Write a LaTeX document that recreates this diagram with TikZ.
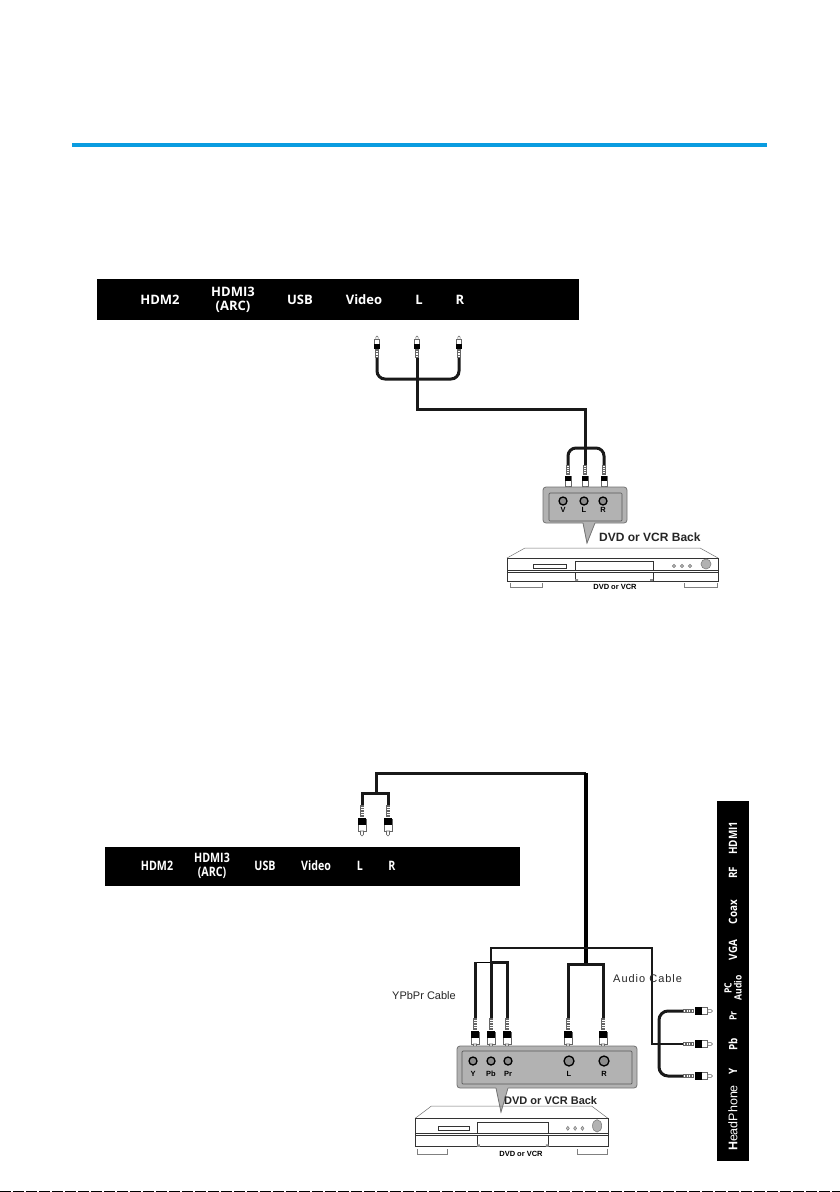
\documentclass[tikz,border=0pt]{standalone}
\usepackage{fontspec}
\setmainfont{Open Sans}
\newfontfamily\lab{Liberation Sans}
\tikzset{
  x=1pt,y=-1pt,
  bar/.style={fill=black,draw=none},
  port/.style={text=white,font=\fontsize{13}{13.5}\selectfont\bfseries,align=center,inner sep=0,transform shape},
  portb/.style={port,xscale=.82},
  vport/.style={port,rotate=90,xscale=.86,font=\fontsize{11.5}{11}\selectfont\bfseries},
  cable/.style={line width=3pt,draw=black!90,line join=miter},
  thin cable/.style={line width=2pt,draw=black!90},
  rounded cable/.style={cable,rounded corners=8pt},
  caption/.style={font=\lab\fontsize{11}{11}\selectfont,text=black!85,inner sep=0},
  backlabel/.style={font=\lab\bfseries\fontsize{11}{11}\selectfont,text=black!85,inner sep=0},
  jacklabel/.style={font=\lab\bfseries\fontsize{7.5}{7.5}\selectfont,inner sep=0},
  panel/.style={fill=black!30,draw=black!55,line width=.8pt,rounded corners=3pt},
  jack/.style={circle,fill=black!45,draw=black,line width=1.3pt,minimum size=8pt,inner sep=0},
  plug/.pic={
    \fill[black!60] (-2.2,0) rectangle (2.2,12);
    \foreach \r in {1.5,4,6.5,9}{\fill[white] (-1.5,\r) rectangle (1.5,\r+1);}
    \filldraw[fill=white,draw=black!60,line width=.6pt] (-3.8,14) rectangle (3.8,26);
    \fill[black] (-3.8,13) rectangle (3.8,20);
    \filldraw[fill=white,draw=black!60,line width=.6pt] (-1.5,26) -- (-1.5,29.5) -- (0,31) -- (1.5,29.5) -- (1.5,26) -- cycle;
  }
}
\newcommand{\player}[4]{%
\begin{scope}[shift={(#1,#2)},xscale=#3,yscale=#4,line width=.9pt,draw=black!80]
  \draw[black!55,line width=.5pt] (0,10) -- (18,0) -- (193,0) -- (211,10);
  \draw (0,10) rectangle (211,33);
  \draw (0,22) -- (211,22) (0,24) -- (211,24);
  \draw[line width=.7pt] (26,16) rectangle (59,20);
  \draw (68,13) rectangle (146,22);
  \draw (68,24) -- (68,33) (146,24) -- (146,33);
  \fill[black!45] (68,31) rectangle (71,33) (143,31) rectangle (146,33);
  \foreach \b in {167,175,183}{\filldraw[fill=black!20,draw=black!50,line width=.6pt] (\b,18) circle[radius=1.6];}
  \filldraw[fill=black!30,draw=black!50,line width=.6pt] (199,16) circle[radius=5];
  \draw[black!50,line width=.6pt] (3,35) -- (3,39) -- (35,39) -- (35,35);
  \draw[black!50,line width=.6pt] (177,35) -- (177,39) -- (210,39) -- (210,35);
\end{scope}}
\begin{document}
\begin{tikzpicture}
\useasboundingbox (0,0) rectangle (840,1192);
\fill[white] (0,0) rectangle (840,1192);
% header rule and bottom edge
\coordinate (ruleL) at (72,145);
\coordinate (ruleR) at (767,145);
\draw[line width=4pt,draw={rgb,255:red,10;green,156;blue,224}] (ruleL) -- (ruleR);
\coordinate (edgeL) at (0,1191.5);
\coordinate (edgeR) at (840,1191.5);
\draw[line width=1pt,dash pattern=on 11pt off 2pt] (edgeL) -- (edgeR);

% ---------- upper bar
\fill[bar] (97,279) rectangle (579,320);
\node[port] (a1) at (160,300) {HDM2};
\node[port] (a2) at (233,300) {HDMI3\\(ARC)};
\node[port] (a3) at (300,300) {USB};
\node[port] (a4) at (364,300) {Video};
\node[port] (a5) at (419,300) {L};
\node[port] (a6) at (460,300) {R};

% upper cable
\coordinate (uV) at (377,358);
\coordinate (uL) at (417,358);
\coordinate (uR) at (459,358);
\coordinate (uJ) at (417,379);
\coordinate (uA) at (417,409);
\coordinate (uB) at (585,409);
\coordinate (lJ) at (585,448);
\coordinate (lV) at (568,465);
\coordinate (lL) at (585,465);
\coordinate (lR) at (604,465);
\draw[rounded cable] (uV) |- (uJ);
\draw[rounded cable] (uR) |- (uJ);
\draw[cable] (uL) -- (uA) -- (uB) -- (lL);
\draw[rounded cable] (lV) |- (lJ);
\draw[rounded cable] (lR) |- (lJ);
\foreach \c in {uV,uL,uR}{\pic[rotate=180,scale=.71] at (\c) {plug};}
\foreach \c in {lV,lL,lR}{\pic[scale=.82] at (\c) {plug};}

% upper panel
\draw[panel] (543,487) rectangle (627,523);
\filldraw[fill=black!30,draw=black!30] (583,522) -- (587,543) -- (595,522) -- cycle;
\draw[black!55,line width=.8pt] (583,523) -- (587,543) -- (595,523);
\draw[black!65,line width=.7pt,rounded corners=1pt] (549,493) rectangle (622,521);
\node[jack] (j1) at (563,501) {};
\node[jack] (j2) at (584,501) {};
\node[jack] (j3) at (603,501) {};
\node[jacklabel] (l1) at (563,510) {V};
\node[jacklabel] (l2) at (584,510) {L};
\node[jacklabel] (l3) at (603,510) {R};
\node[backlabel,anchor=west,font=\lab\bfseries\fontsize{12}{12}\selectfont] (b1) at (599,537) {DVD or VCR Back};
\player{507}{548}{1}{1}
\node[font=\lab\bfseries\fontsize{7.5}{7.5}\selectfont,inner sep=0] (p1) at (615,587) {DVD or VCR};

% ---------- lower bar
\fill[bar] (105,847) rectangle (520,886);
\node[portb] (c1) at (157,866) {HDM2};
\node[portb] (c2) at (212,866) {HDMI3\\(ARC)};
\node[portb] (c3) at (265,866) {USB};
\node[portb] (c4) at (316,866) {Video};
\node[portb] (c5) at (360,866) {L};
\node[portb] (c6) at (392,866) {R};

% lower cables
\coordinate (tL) at (362,805);
\coordinate (tR) at (388,805);
\coordinate (tJ) at (376,793);
\coordinate (tA) at (376,773);
\coordinate (tB) at (586,773);
\coordinate (tC) at (586,964);
\coordinate (aL) at (568,1018);
\coordinate (aR) at (603,1018);
\coordinate (yY) at (475,1018);
\coordinate (yB) at (491,1018);
\coordinate (yP) at (507,1018);
\coordinate (yT) at (491,962);
\coordinate (wA) at (491,948);
\coordinate (wB) at (652,948);
\coordinate (wC) at (652,1044);
\coordinate (rPr) at (683,1011);
\coordinate (rPb) at (683,1044);
\coordinate (rY) at (683,1076);
\coordinate (rX) at (659,1011);
\draw[cable] (tL) |- (tJ) -| (tR);
\draw[cable] (tJ) -- (tA) -- (tB);
\draw[line width=4pt,draw=black] (tB) -- (tC);
\draw[cable] (aL) |- (tC) -| (aR);
\draw[line width=1pt,draw=black] (yY |- yT) -- (yT);
\draw[cable] (yY) -- (yY |- yT);
\draw[cable] (yB) -- (yT);
\draw[cable] (yP) |- (yT);
\draw[thin cable] (yT) -- (wA) -- (wB) -- (wC) -- (rPb);
\draw[rounded cable,rounded corners=9pt] (rPr) -- (rX) -- (rX |- rY) -- (rY);
\foreach \c in {tL,tR,aL,aR,yY,yB,yP}{\pic at (\c) {plug};}
\foreach \c in {rPr,rPb,rY}{\pic[rotate=90,scale=.95] at (\c) {plug};}

% lower panel
\draw[panel] (457,1046) rectangle (637,1088);
\filldraw[fill=black!30,draw=black!30] (496,1087) -- (501,1112) -- (508,1087) -- cycle;
\draw[black!55,line width=.8pt] (496,1088) -- (501,1112) -- (508,1088);
\draw[black!65,line width=.7pt,rounded corners=1pt] (462,1051) rectangle (632,1084);
\node[jack] (k1) at (473,1061) {};
\node[jack] (k2) at (491,1061) {};
\node[jack] (k3) at (508,1061) {};
\node[jack,minimum size=10pt] (k4) at (569,1061) {};
\node[jack,minimum size=10pt] (k5) at (604,1061) {};
\node[jacklabel] (m1) at (473,1074) {Y};
\node[jacklabel] (m2) at (491,1074) {Pb};
\node[jacklabel] (m3) at (508,1074) {Pr};
\node[jacklabel] (m4) at (569,1074) {L};
\node[jacklabel] (m5) at (604,1074) {R};
\node[backlabel,anchor=west] (b2) at (504,1101) {DVD or VCR Back};
\player{415}{1106}{.915}{1.24}
\node[font=\lab\bfseries\fontsize{7.5}{7.5}\selectfont,inner sep=0] (p2) at (521,1154) {DVD or VCR};
\node[caption,anchor=west] (cap1) at (392,996) {YPbPr Cable};
\node[caption,anchor=west] (cap2) at (613,979) {\addfontfeature{LetterSpace=9}Audio Cable};

% ---------- side bar
\fill[bar] (717,801) rectangle (749,1161);
\node[vport] (v1) at (733,838) {HDMI1};
\node[vport] (v2) at (733,873) {RF};
\node[vport] (v3) at (733,912) {Coax};
\node[vport] (v4) at (733,950) {VGA};
\node[vport,font=\fontsize{10}{10}\selectfont\bfseries] (v5) at (733,988) {PC\\Audio};
\node[vport,font=\fontsize{10}{10}\selectfont\bfseries] (v6) at (733,1016) {Pr};
\node[vport] (v7) at (733,1044) {Pb};
\node[vport] (v8) at (733,1071) {Y};
\node[vport,xscale=1.16,font=\lab\fontsize{12.5}{12.5}\selectfont] (v9) at (733,1118) {{\bfseries H}eadPhone};
\end{tikzpicture}
\end{document}
